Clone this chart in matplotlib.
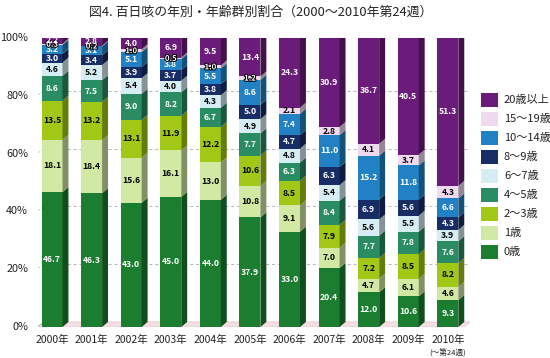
import numpy as np
import matplotlib
matplotlib.use("Agg")
import matplotlib.pyplot as plt
from matplotlib.patches import Polygon, Rectangle
import matplotlib.patheffects as pe
from matplotlib import colors as mcolors

plt.rcParams['font.family'] = ['Noto Sans CJK JP', 'DejaVu Sans']

years = ["2000年", "2001年", "2002年", "2003年", "2004年", "2005年",
         "2006年", "2007年", "2008年", "2009年", "2010年"]
groups = ["0歳", "1歳", "2〜3歳", "4〜5歳", "6〜7歳", "8〜9歳",
          "10〜14歳", "15〜19歳", "20歳以上"]

age0 = [46.7, 46.3, 43.0, 45.0, 44.0, 37.9, 33.0, 20.4, 12.0, 10.6, 9.3]
age1 = [18.1, 18.4, 15.6, 16.1, 13.0, 10.8, 9.1, 7.0, 4.7, 6.1, 4.6]
age2_3 = [13.5, 13.2, 13.1, 11.9, 12.2, 10.6, 8.5, 7.9, 7.2, 8.5, 8.2]
age4_5 = [8.6, 7.5, 9.0, 8.2, 6.7, 7.7, 6.3, 8.4, 7.7, 7.8, 7.6]
age6_7 = [4.6, 5.2, 5.4, 4.0, 4.3, 4.9, 4.8, 5.4, 5.6, 5.5, 3.9]
age8_9 = [3.0, 3.4, 3.9, 3.7, 3.8, 5.0, 4.7, 6.3, 6.9, 5.6, 4.3]
age10_14 = [3.2, 3.1, 5.1, 3.8, 5.5, 8.6, 7.4, 11.0, 15.2, 11.8, 6.6]
age15_19 = [0.3, 0.2, 1.0, 0.5, 1.0, 1.2, 2.1, 2.8, 4.1, 3.7, 4.3]
age20 = [2.2, 2.8, 4.0, 6.9, 9.5, 13.4, 24.3, 30.9, 36.7, 40.5, 51.3]

series = [age0, age1, age2_3, age4_5, age6_7, age8_9, age10_14, age15_19, age20]
colors = ["#1b7d2f", "#d2e9a3", "#a0c814", "#2a8c62", "#d6edf3",
          "#182c66", "#2281c4", "#efd9ef", "#6b1c7a"]
txtcol = ["white", "black", "black", "white", "black",
          "white", "white", "black", "white"]

fig = plt.figure(figsize=(5.5, 3.58), dpi=100)
ax = fig.add_axes([38 / 550, 31 / 358, 432 / 550, 289 / 358])
x0, x1 = -0.354, 10.56
ax.set_xlim(x0, x1)
ax.set_ylim(0, 100)
ax.axis("off")

w = 0.53
dx = 0.15
dy = 1.75

# floor and back wall grid
ax.add_patch(Polygon([(x0, 0), (x0 + dx, dy), (x1, dy), (x1 - dx, 0)],
                     closed=True, facecolor="#f4dfe3", edgecolor="#e8c8cf",
                     lw=0.6, zorder=0))
for v in [20, 40, 60, 80, 100]:
    ax.plot([x0 + dx, x1], [v + dy, v + dy], ls=(0, (3, 3)), color="#b5b5b5",
            lw=0.7, zorder=0)
    ax.plot([x0 - 0.12, x0 + dx], [v - 1.0, v + dy], color="#b5b5b5", lw=0.6,
            ls=(0, (2, 2)), zorder=0)
    ax.text(x0 - 0.25, v, f"{v}%", ha="right", va="center", fontsize=7.8,
            color="#222222")
ax.text(x0 - 0.25, 0, "0%", ha="right", va="center", fontsize=7.8, color="#222222")
ax.plot([x0 - 0.12, x0 + dx], [-1.0, dy], color="#b5b5b5", lw=0.6, zorder=0)

def shade(c, f):
    r, g, b = mcolors.to_rgb(c)
    return (r * f, g * f, b * f)

xs = np.arange(len(years))
for i, xc in enumerate(xs):
    bottom = 0.0
    for k, s in enumerate(series):
        v = s[i]
        top = bottom + v
        ax.add_patch(Rectangle((xc - w / 2, bottom), w, v, facecolor=colors[k],
                               edgecolor="none", zorder=2))
        ax.add_patch(Polygon([(xc + w / 2, bottom), (xc + w / 2 + dx, bottom + dy),
                              (xc + w / 2 + dx, top + dy), (xc + w / 2, top)],
                             closed=True, facecolor=shade(colors[k], 0.62),
                             edgecolor="none", zorder=2))
        if k == len(series) - 1:
            ax.add_patch(Polygon([(xc - w / 2, top), (xc - w / 2 + dx, top + dy),
                                  (xc + w / 2 + dx, top + dy), (xc + w / 2, top)],
                                 closed=True, facecolor=shade(colors[k], 0.8),
                                 edgecolor="none", zorder=2))
        if v < 1.5:
            ax.text(xc, bottom + v / 2, f"{v:.1f}", ha="center", va="center",
                    fontsize=5.6, fontweight="bold", color="white", zorder=3,
                    path_effects=[pe.withStroke(linewidth=1.5, foreground="black")])
        else:
            ax.text(xc, bottom + v / 2, f"{v:.1f}", ha="center", va="center",
                    fontsize=6.2, fontweight="bold", color=txtcol[k], zorder=3)
        bottom = top
    ax.text(xc, -4.5, years[i], ha="center", va="center", fontsize=7.5,
            color="#222222")
ax.text(xs[-1], -9.2, "(〜第24週)", ha="center", va="center", fontsize=5.5,
        color="#222222")

# legend
for k in range(len(groups) - 1, -1, -1):
    yc = 358 - (100 + (len(groups) - 1 - k) * 19)
    fig.patches.append(Rectangle((481 / 550, (yc - 7) / 358), 17 / 550, 14 / 358,
                                 facecolor=colors[k], edgecolor="none",
                                 transform=fig.transFigure, figure=fig))
    fig.text(504 / 550, yc / 358, groups[k], ha="left", va="center", fontsize=8,
             color="#222222")

fig.text(261 / 550, 346 / 358, "図4. 百日咳の年別・年齢群別割合（2000〜2010年第24週）",
         ha="center", va="center", fontsize=9.3, color="#222222")

fig.savefig("out.png", dpi=100)
